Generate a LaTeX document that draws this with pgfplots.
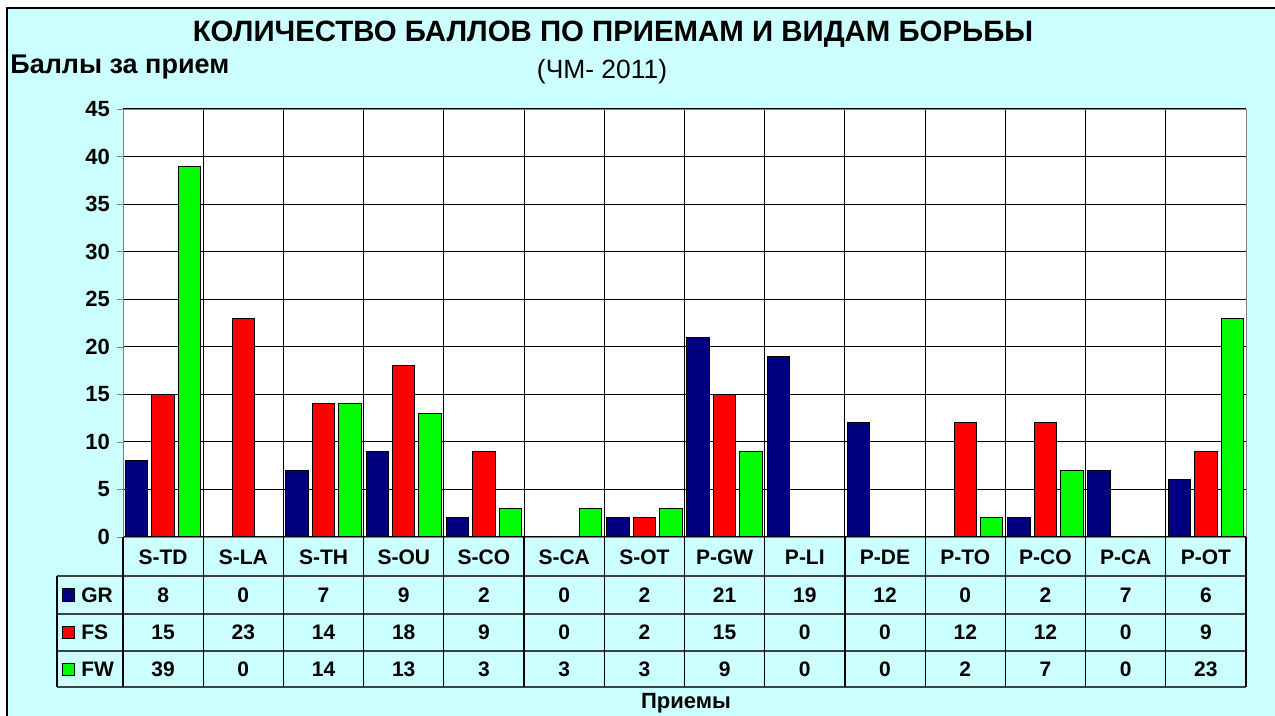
\documentclass[border=0pt]{standalone}
\usepackage{fontspec}
\setmainfont{Liberation Sans}
\usepackage{pgfplots}
\pgfplotsset{compat=1.18}
\usepackage{pgfplotstable}

\definecolor{bg}{RGB}{204,255,255}
\definecolor{gr}{RGB}{0,0,128}
\definecolor{fs}{RGB}{255,0,0}
\definecolor{fw}{RGB}{0,255,0}

% points per technique and wrestling style (WCh 2011)
\pgfplotstableread{
cat  GR FS FW
S-TD 8  15 39
S-LA 0  23 0
S-TH 7  14 14
S-OU 9  18 13
S-CO 2  9  3
S-CA 0  0  3
S-OT 2  2  3
P-GW 21 15 9
P-LI 19 0  0
P-DE 12 0  0
P-TO 0  12 2
P-CO 2  12 7
P-CA 7  0  0
P-OT 6  9  23
}\data

\newcommand{\cellfont}{\bfseries\fontsize{10.5}{12}\selectfont}

\begin{document}
\begin{tikzpicture}[x=0.5pt,y=-0.5pt]
% background, pixel coordinates (y down)
\path[use as bounding box] (0,0) rectangle (1275,716);
\fill[white] (0,0) rectangle (1275,716);
\fill[bg] (7,8) rectangle (1275,716);
\draw[black,line width=0.8pt] (7,716) -- (7,8) -- (1275,8);

\node[font=\bfseries\fontsize{14.7}{17}\selectfont] at (613,34) {КОЛИЧЕСТВО БАЛЛОВ ПО ПРИЕМАМ И ВИДАМ БОРЬБЫ};
\node[font=\bfseries\fontsize{13.5}{16}\selectfont,anchor=west,inner sep=0pt] at (10,67) {Баллы за прием};
\node[font=\fontsize{13.2}{15}\selectfont] at (602,72) {(ЧМ- 2011)};

\begin{axis}[
  at={(61.5pt,-268.5pt)}, anchor=south west,
  scale only axis, width=561.5pt, height=214pt,
  xmin=-0.5, xmax=13.5, ymin=0, ymax=45,
  xtick={-0.5,0.5,...,13.5}, xticklabels={},
  x tick style={draw=none},
  ytick={0,5,...,45}, ytick pos=left,
  tick align=outside, major tick length=3pt,
  xmajorgrids, ymajorgrids,
  grid style={black,line width=0.5pt},
  axis line style={gray},
  axis background/.style={fill=white},
  yticklabel style={font=\bfseries\fontsize{11}{13}\selectfont},
  /pgf/number format/assume math mode=true,
  ybar, bar width=0.28,
]
\addplot[fill=gr,draw=black,line width=0.5pt,bar shift=-0.33] table[x expr=\coordindex,y=GR]{\data};
\addplot[fill=fs,draw=black,line width=0.5pt,bar shift=0] table[x expr=\coordindex,y=FS]{\data};
\addplot[fill=fw,draw=black,line width=0.5pt,bar shift=0.33] table[x expr=\coordindex,y=FW]{\data};
\end{axis}

% data table under the plot
\foreach \y in {576,614,651,687}
  \draw[black!75,line width=0.6pt] (57,\y) -- (1246,\y);
\draw[black,line width=0.6pt] (57,576) -- (57,687);
\foreach \k in {0,...,14}{
  \pgfmathsetmacro\vx{123+80.214*\k}
  \draw[black,line width=0.6pt] (\vx,537) -- (\vx,687);
}
\foreach \i in {0,...,13}{
  \pgfmathsetmacro\cx{123+80.214*(\i+0.5)}
  \pgfplotstablegetelem{\i}{cat}\of\data
  \node[font=\cellfont] at (\cx,557) {\pgfplotsretval};
  \pgfplotstablegetelem{\i}{GR}\of\data
  \node[font=\cellfont] at (\cx,595) {\pgfplotsretval};
  \pgfplotstablegetelem{\i}{FS}\of\data
  \node[font=\cellfont] at (\cx,632.5) {\pgfplotsretval};
  \pgfplotstablegetelem{\i}{FW}\of\data
  \node[font=\cellfont] at (\cx,669) {\pgfplotsretval};
}
% legend keys
\foreach \c/\n/\y in {gr/GR/595,fs/FS/632.5,fw/FW/669}{
  \filldraw[fill=\c,draw=black,line width=0.5pt] (62,\y-6) rectangle (74,\y+6);
  \node[font=\cellfont,anchor=west,inner sep=0pt] at (81,\y) {\n};
}
\node[font=\bfseries\fontsize{11}{13}\selectfont] at (686,703) {Приемы};
\end{tikzpicture}
\end{document}
